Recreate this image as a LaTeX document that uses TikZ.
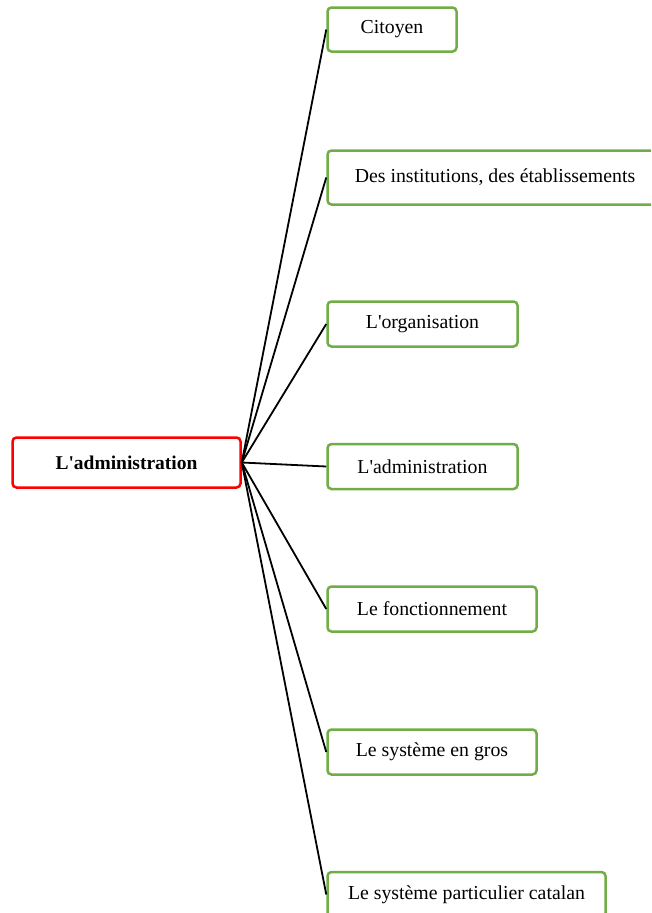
\documentclass[tikz,border=0pt]{standalone}
\usepackage{fontspec}
\setmainfont{Liberation Serif}
\definecolor{leafgreen}{HTML}{70AD47}
\begin{document}
\begin{tikzpicture}[x=1pt,y=-1pt,
  box/.style={draw, rounded corners=4pt, line width=2.5pt, fill=white, inner sep=0pt,
    font=\fontsize{19.8}{23}\selectfont},
  leaf/.style={box, draw=leafgreen},
  rootbox/.style={box, draw=red, font=\fontsize{19.5}{23}\selectfont\bfseries},
  link/.style={line width=1.8pt, black}]
\useasboundingbox (0,0) rectangle (651,913);
\clip (0,0) rectangle (651,913);
\node[rootbox, minimum width=228pt, minimum height=50pt] (root) at (126.5,462.5) {L\textquotesingle administration};
\node[leaf, minimum width=129pt, minimum height=44pt] (n1) at (392,29.5) {Citoyen};
\node[leaf, minimum width=335pt, minimum height=54pt] (n2) at (495,177.5) {Des institutions, des établissements};
\node[leaf, minimum width=190pt, minimum height=45pt] (n3) at (422.5,324) {L\textquotesingle organisation};
\node[leaf, minimum width=190pt, minimum height=45pt] (n4) at (422.5,466.5) {L\textquotesingle administration};
\node[leaf, minimum width=209pt, minimum height=45pt] (n5) at (432,609) {Le fonctionnement};
\node[leaf, minimum width=209pt, minimum height=45pt] (n6) at (432,752) {Le système en gros};
\node[leaf, minimum width=278pt, minimum height=45pt] (n7) at (466.5,894.5) {Le système particulier catalan};
\foreach \n in {n1,n2,n3,n4,n5,n6,n7}
  \draw[link] (root.east) -- (\n.west);
\end{tikzpicture}
\end{document}
